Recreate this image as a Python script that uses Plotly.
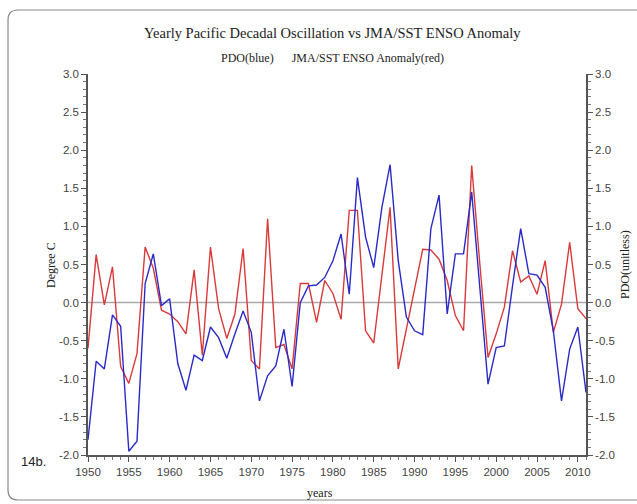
import plotly.graph_objects as go

years = list(range(1950, 2012))

# Pacific Decadal Oscillation index (unitless), yearly
pdo = [-1.80, -0.77, -0.87, -0.16, -0.31, -1.95, -1.82, 0.25, 0.64, -0.04,
       0.05, -0.80, -1.15, -0.69, -0.76, -0.32, -0.46, -0.73, -0.41, -0.11,
       -0.39, -1.29, -0.96, -0.83, -0.35, -1.10, 0.00, 0.22, 0.23, 0.33,
       0.55, 0.90, 0.11, 1.64, 0.86, 0.46, 1.25, 1.81, 0.55, -0.19,
       -0.37, -0.42, 0.97, 1.41, -0.15, 0.64, 0.64, 1.45, 0.19, -1.07,
       -0.59, -0.57, 0.22, 0.97, 0.38, 0.36, 0.20, -0.37, -1.29, -0.61,
       -0.32, -1.18]

# JMA/SST ENSO anomaly (degree C), yearly
enso = [-0.60, 0.63, -0.03, 0.47, -0.84, -1.06, -0.67, 0.73, 0.45, -0.10,
        -0.15, -0.25, -0.41, 0.43, -0.69, 0.73, -0.08, -0.47, -0.15, 0.71,
        -0.76, -0.87, 1.10, -0.59, -0.55, -0.87, 0.25, 0.25, -0.26, 0.29,
        0.12, -0.22, 1.21, 1.21, -0.37, -0.53, 0.36, 1.25, -0.87, -0.35,
        0.18, 0.70, 0.69, 0.57, 0.29, -0.17, -0.37, 1.80, 0.50, -0.72,
        -0.41, -0.06, 0.68, 0.27, 0.35, 0.11, 0.55, -0.39, -0.02, 0.79,
        -0.08, -0.21]

serif = "Liberation Serif, Times New Roman, serif"
sans = "Liberation Sans, Arial, sans-serif"
tick_color = "#444444"

fig = go.Figure()
fig.add_trace(go.Scatter(x=years, y=enso, mode="lines", yaxis="y",
                         line=dict(color="#d93a3a", width=1.4), showlegend=False))
fig.add_trace(go.Scatter(x=years, y=pdo, mode="lines", yaxis="y2",
                         line=dict(color="#2a2ac8", width=1.4), showlegend=False))

yticks = [-2.0, -1.5, -1.0, -0.5, 0.0, 0.5, 1.0, 1.5, 2.0, 2.5, 3.0]
ytext = [f"{v:.1f}" for v in yticks]

axis_common = dict(
    range=[-2, 3], tickvals=yticks, ticktext=ytext, ticks="outside", ticklen=5,
    tickcolor="#555555", showline=True, linecolor="#555555", linewidth=1.5,
    showgrid=False, zeroline=False, automargin=False,
    tickfont=dict(family=sans, size=11.5, color=tick_color),
    minor=dict(dtick=0.1, ticks="outside", ticklen=3, tickcolor="#777777"),
)

fig.update_layout(
    width=637, height=504,
    margin=dict(l=88, r=51, t=74, b=49),
    paper_bgcolor="white", plot_bgcolor="white",
    xaxis=dict(range=[1950, 2011], tickvals=list(range(1950, 2011, 5)),
               ticks="outside", ticklen=5, tickcolor="#555555",
               showline=True, linecolor="#555555", linewidth=1.5,
               showgrid=False, zeroline=False, automargin=False,
               tickfont=dict(family=sans, size=11.5, color=tick_color),
               minor=dict(dtick=1, ticks="outside", ticklen=3, tickcolor="#777777")),
    yaxis=dict(**axis_common, side="left"),
    yaxis2=dict(**axis_common, side="right", overlaying="y"),
)

# zero reference line
fig.add_shape(type="line", xref="paper", yref="y", x0=0, x1=1, y0=0, y1=0,
              line=dict(color="#aaaaaa", width=1.5), layer="below")

pw, ph = 498.0, 381.0
def px(v):
    return (v - 88) / pw
def py(v):
    return (455 - v) / ph

def label(text, x, y, family, size, angle=0):
    fig.add_annotation(text=text, xref="paper", yref="paper", x=px(x), y=py(y),
                       showarrow=False, xanchor="center", yanchor="middle",
                       textangle=angle, font=dict(family=family, size=size, color="#222"))

label("Yearly Pacific Decadal Oscillation vs JMA/SST ENSO Anomaly", 332, 33, serif, 14.5)
label("PDO(blue)&nbsp;&nbsp;&nbsp;&nbsp;&nbsp;&nbsp;JMA/SST ENSO Anomaly(red)", 332, 58, serif, 12)
label("14b.", 33, 461, sans, 13)
label("years", 320, 493, serif, 12)
label("Degree C", 51, 265, serif, 12, -90)
label("PDO(unitless)", 625, 265, serif, 12, -90)

# rounded frame around the panel
rx, ry = 10 / pw, 10 / ph
x0, x1, y0, y1 = px(8), px(648), py(500), py(10)
path = (f"M {x0 + rx},{y1} L {x1 - rx},{y1} Q {x1},{y1} {x1},{y1 - ry} "
        f"L {x1},{y0 + ry} Q {x1},{y0} {x1 - rx},{y0} L {x0 + rx},{y0} "
        f"Q {x0},{y0} {x0},{y0 + ry} L {x0},{y1 - ry} Q {x0},{y1} {x0 + rx},{y1} Z")
fig.add_shape(type="path", xref="paper", yref="paper", path=path,
              line=dict(color="#8a8a8a", width=1.2), layer="below")

fig.write_html("out.html")
